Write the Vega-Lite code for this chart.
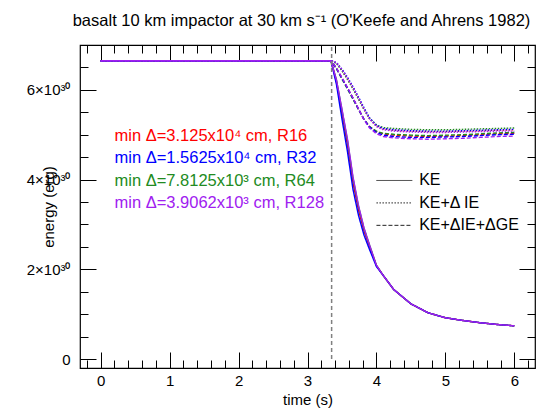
{
  "$schema": "https://vega.github.io/schema/vega-lite/v6.json",
  "width": 455,
  "height": 323,
  "autosize": {"type": "none"},
  "padding": {"left": 80, "top": 45, "right": 11, "bottom": 52},
  "background": "white",
  "title": {"text": "basalt 10 km impactor at 30 km s⁻¹ (O'Keefe and Ahrens 1982)", "font": "Liberation Sans", "fontSize": 16.5, "fontWeight": "normal", "color": "black", "anchor": "middle", "offset": 15, "dx": -6},
  "config": {
    "view": {"stroke": "black", "strokeWidth": 1.2},
    "axis": {"domain": false, "grid": false, "tickColor": "black", "tickWidth": 1, "labelFont": "Liberation Sans", "labelFontSize": 15, "labelColor": "black", "titleFont": "Liberation Sans", "titleFontSize": 15, "titleFontWeight": "normal", "titleColor": "black", "labelFlush": false}
  },
  "datasets": {
    "sims": [
      {"t": 0, "res": "R16", "KE": 6.65e30, "IE": 6.65e30, "GE": 6.65e30},
      {"t": 3.34, "res": "R16", "KE": 6.65e30, "IE": 6.65e30, "GE": 6.65e30},
      {"t": 3.42, "res": "R16", "KE": 6.18e30, "IE": 6.60e30, "GE": 6.48e30},
      {"t": 3.5, "res": "R16", "KE": 5.47e30, "IE": 6.44e30, "GE": 6.26e30},
      {"t": 3.58, "res": "R16", "KE": 4.77e30, "IE": 6.25e30, "GE": 6.04e30},
      {"t": 3.66, "res": "R16", "KE": 3.93e30, "IE": 6.04e30, "GE": 5.81e30},
      {"t": 3.74, "res": "R16", "KE": 3.32e30, "IE": 5.81e30, "GE": 5.57e30},
      {"t": 3.82, "res": "R16", "KE": 2.85e30, "IE": 5.57e30, "GE": 5.34e30},
      {"t": 3.9, "res": "R16", "KE": 2.50e30, "IE": 5.36e30, "GE": 5.18e30},
      {"t": 4.0, "res": "R16", "KE": 2.08e30, "IE": 5.20e30, "GE": 5.07e30},
      {"t": 4.1, "res": "R16", "KE": 1.86e30, "IE": 5.13e30, "GE": 5.02e30},
      {"t": 4.25, "res": "R16", "KE": 1.55e30, "IE": 5.10e30, "GE": 4.99e30},
      {"t": 4.5, "res": "R16", "KE": 1.23e30, "IE": 5.08e30, "GE": 4.97e30},
      {"t": 4.75, "res": "R16", "KE": 1.03e30, "IE": 5.07e30, "GE": 4.96e30},
      {"t": 5.0, "res": "R16", "KE": 0.92e30, "IE": 5.07e30, "GE": 4.97e30},
      {"t": 5.25, "res": "R16", "KE": 0.86e30, "IE": 5.08e30, "GE": 4.98e30},
      {"t": 5.5, "res": "R16", "KE": 0.81e30, "IE": 5.09e30, "GE": 5.00e30},
      {"t": 5.75, "res": "R16", "KE": 0.77e30, "IE": 5.10e30, "GE": 5.02e30},
      {"t": 6.0, "res": "R16", "KE": 0.74e30, "IE": 5.11e30, "GE": 5.03e30},

      {"t": 0, "res": "R64", "KE": 6.65e30, "IE": 6.65e30, "GE": 6.65e30},
      {"t": 3.34, "res": "R64", "KE": 6.65e30, "IE": 6.65e30, "GE": 6.65e30},
      {"t": 3.42, "res": "R64", "KE": 6.22e30, "IE": 6.59e30, "GE": 6.47e30},
      {"t": 3.5, "res": "R64", "KE": 5.55e30, "IE": 6.42e30, "GE": 6.24e30},
      {"t": 3.58, "res": "R64", "KE": 4.87e30, "IE": 6.23e30, "GE": 6.02e30},
      {"t": 3.66, "res": "R64", "KE": 4.03e30, "IE": 6.02e30, "GE": 5.79e30},
      {"t": 3.74, "res": "R64", "KE": 3.40e30, "IE": 5.79e30, "GE": 5.56e30},
      {"t": 3.82, "res": "R64", "KE": 2.91e30, "IE": 5.56e30, "GE": 5.34e30},
      {"t": 3.9, "res": "R64", "KE": 2.54e30, "IE": 5.36e30, "GE": 5.18e30},
      {"t": 4.0, "res": "R64", "KE": 2.09e30, "IE": 5.22e30, "GE": 5.08e30},
      {"t": 4.1, "res": "R64", "KE": 1.86e30, "IE": 5.16e30, "GE": 5.03e30},
      {"t": 4.25, "res": "R64", "KE": 1.55e30, "IE": 5.14e30, "GE": 5.01e30},
      {"t": 4.5, "res": "R64", "KE": 1.23e30, "IE": 5.12e30, "GE": 4.99e30},
      {"t": 4.75, "res": "R64", "KE": 1.03e30, "IE": 5.11e30, "GE": 4.98e30},
      {"t": 5.0, "res": "R64", "KE": 0.92e30, "IE": 5.11e30, "GE": 4.99e30},
      {"t": 5.25, "res": "R64", "KE": 0.86e30, "IE": 5.12e30, "GE": 5.00e30},
      {"t": 5.5, "res": "R64", "KE": 0.81e30, "IE": 5.13e30, "GE": 5.02e30},
      {"t": 5.75, "res": "R64", "KE": 0.77e30, "IE": 5.14e30, "GE": 5.04e30},
      {"t": 6.0, "res": "R64", "KE": 0.74e30, "IE": 5.15e30, "GE": 5.05e30},

      {"t": 0, "res": "R32", "KE": 6.65e30, "IE": 6.65e30, "GE": 6.65e30},
      {"t": 3.34, "res": "R32", "KE": 6.65e30, "IE": 6.65e30, "GE": 6.65e30},
      {"t": 3.42, "res": "R32", "KE": 6.12e30, "IE": 6.61e30, "GE": 6.48e30},
      {"t": 3.5, "res": "R32", "KE": 5.35e30, "IE": 6.46e30, "GE": 6.26e30},
      {"t": 3.58, "res": "R32", "KE": 4.62e30, "IE": 6.28e30, "GE": 6.04e30},
      {"t": 3.66, "res": "R32", "KE": 3.78e30, "IE": 6.07e30, "GE": 5.81e30},
      {"t": 3.74, "res": "R32", "KE": 3.20e30, "IE": 5.84e30, "GE": 5.57e30},
      {"t": 3.82, "res": "R32", "KE": 2.76e30, "IE": 5.60e30, "GE": 5.34e30},
      {"t": 3.9, "res": "R32", "KE": 2.44e30, "IE": 5.38e30, "GE": 5.17e30},
      {"t": 4.0, "res": "R32", "KE": 2.06e30, "IE": 5.21e30, "GE": 5.05e30},
      {"t": 4.1, "res": "R32", "KE": 1.86e30, "IE": 5.14e30, "GE": 4.99e30},
      {"t": 4.25, "res": "R32", "KE": 1.55e30, "IE": 5.11e30, "GE": 4.96e30},
      {"t": 4.5, "res": "R32", "KE": 1.23e30, "IE": 5.09e30, "GE": 4.94e30},
      {"t": 4.75, "res": "R32", "KE": 1.03e30, "IE": 5.08e30, "GE": 4.94e30},
      {"t": 5.0, "res": "R32", "KE": 0.92e30, "IE": 5.08e30, "GE": 4.95e30},
      {"t": 5.25, "res": "R32", "KE": 0.86e30, "IE": 5.09e30, "GE": 4.96e30},
      {"t": 5.5, "res": "R32", "KE": 0.81e30, "IE": 5.10e30, "GE": 4.98e30},
      {"t": 5.75, "res": "R32", "KE": 0.77e30, "IE": 5.11e30, "GE": 5.00e30},
      {"t": 6.0, "res": "R32", "KE": 0.74e30, "IE": 5.12e30, "GE": 5.01e30},

      {"t": 0, "res": "R128", "KE": 6.65e30, "IE": 6.65e30, "GE": 6.65e30},
      {"t": 3.34, "res": "R128", "KE": 6.65e30, "IE": 6.65e30, "GE": 6.65e30},
      {"t": 3.42, "res": "R128", "KE": 6.22e30, "IE": 6.61e30, "GE": 6.49e30},
      {"t": 3.5, "res": "R128", "KE": 5.57e30, "IE": 6.45e30, "GE": 6.27e30},
      {"t": 3.58, "res": "R128", "KE": 4.90e30, "IE": 6.26e30, "GE": 6.05e30},
      {"t": 3.66, "res": "R128", "KE": 4.06e30, "IE": 6.05e30, "GE": 5.82e30},
      {"t": 3.74, "res": "R128", "KE": 3.42e30, "IE": 5.82e30, "GE": 5.58e30},
      {"t": 3.82, "res": "R128", "KE": 2.92e30, "IE": 5.57e30, "GE": 5.33e30},
      {"t": 3.9, "res": "R128", "KE": 2.54e30, "IE": 5.35e30, "GE": 5.15e30},
      {"t": 4.0, "res": "R128", "KE": 2.09e30, "IE": 5.18e30, "GE": 5.02e30},
      {"t": 4.1, "res": "R128", "KE": 1.86e30, "IE": 5.11e30, "GE": 4.96e30},
      {"t": 4.25, "res": "R128", "KE": 1.55e30, "IE": 5.08e30, "GE": 4.93e30},
      {"t": 4.5, "res": "R128", "KE": 1.23e30, "IE": 5.06e30, "GE": 4.91e30},
      {"t": 4.75, "res": "R128", "KE": 1.03e30, "IE": 5.05e30, "GE": 4.90e30},
      {"t": 5.0, "res": "R128", "KE": 0.92e30, "IE": 5.05e30, "GE": 4.91e30},
      {"t": 5.25, "res": "R128", "KE": 0.86e30, "IE": 5.06e30, "GE": 4.92e30},
      {"t": 5.5, "res": "R128", "KE": 0.81e30, "IE": 5.07e30, "GE": 4.94e30},
      {"t": 5.75, "res": "R128", "KE": 0.77e30, "IE": 5.08e30, "GE": 4.96e30},
      {"t": 6.0, "res": "R128", "KE": 0.74e30, "IE": 5.08e30, "GE": 4.97e30}
    ],
    "notes": [
      {"t": 0.2, "E": 4.97e30, "res": "R16", "label": "min Δ=3.125x10⁴ cm, R16"},
      {"t": 0.2, "E": 4.47e30, "res": "R32", "label": "min Δ=1.5625x10⁴ cm, R32"},
      {"t": 0.2, "E": 3.97e30, "res": "R64", "label": "min Δ=7.8125x10³ cm, R64"},
      {"t": 0.2, "E": 3.47e30, "res": "R128", "label": "min Δ=3.9062x10³ cm, R128"}
    ],
    "key": [
      {"t": 4.0, "t2": 4.52, "tl": 4.62, "E": 3.98e30, "q": "KE", "label": "KE"},
      {"t": 4.0, "t2": 4.52, "tl": 4.62, "E": 3.48e30, "q": "IE", "label": "KE+Δ IE"},
      {"t": 4.0, "t2": 4.52, "tl": 4.62, "E": 2.98e30, "q": "GE", "label": "KE+ΔIE+ΔGE"}
    ],
    "impact": [
      {"t": 3.35, "E": 0, "E2": 7e30}
    ]
  },
  "resolve": {"axis": {"x": "independent", "y": "independent"}},
  "layer": [
    {
      "data": {"name": "sims"},
      "transform": [{"fold": ["KE", "IE", "GE"], "as": ["q", "E"]}],
      "mark": {"type": "line", "strokeWidth": 1.4, "clip": true},
      "encoding": {
        "x": {"field": "t", "type": "quantitative", "scale": {"domain": [-0.3, 6.3], "nice": false, "zero": false},
              "axis": {"orient": "bottom", "values": [0, 1, 2, 3, 4, 5, 6], "offset": -16, "tickSize": 16, "labelPadding": 5, "title": "time (s)", "titlePadding": 4}},
        "y": {"field": "E", "type": "quantitative", "scale": {"domain": [-2e29, 7e30], "nice": false, "zero": false},
              "axis": {"orient": "left", "values": [0, 2e30, 4e30, 6e30], "offset": -16, "tickSize": 16, "labelPadding": 10, "labelExpr": "datum.value === 0 ? '0' : round(datum.value / 1e30) + '×10³⁰'", "title": "energy (erg)", "titlePadding": -30}},
        "color": {"field": "res", "type": "nominal", "scale": {"domain": ["R16", "R32", "R64", "R128"], "range": ["#ff0000", "#0000ff", "#228b22", "#a020f0"]}, "legend": null},
        "strokeDash": {"field": "q", "type": "nominal", "scale": {"domain": ["KE", "IE", "GE"], "range": [[1, 0], [1.5, 1.5], [4, 2]]}, "legend": null},
        "detail": {"field": "res"}
      }
    },
    {
      "data": {"name": "impact"},
      "mark": {"type": "rule", "color": "#808080", "strokeWidth": 1.5, "strokeDash": [4, 3]},
      "encoding": {
        "x": {"field": "t", "type": "quantitative", "scale": {"domain": [-0.3, 6.3], "nice": false, "zero": false},
              "axis": {"orient": "bottom", "values": [-0.2, 0.2, 0.4, 0.6, 0.8, 1.2, 1.4, 1.6, 1.8, 2.2, 2.4, 2.6, 2.8, 3.2, 3.4, 3.6, 3.8, 4.2, 4.4, 4.6, 4.8, 5.2, 5.4, 5.6, 5.8, 6.2], "offset": -8, "tickSize": 8, "labels": false, "title": null}},
        "y": {"field": "E", "type": "quantitative", "scale": {"domain": [-2e29, 7e30], "nice": false, "zero": false},
              "axis": {"orient": "left", "values": [5e29, 1e30, 1.5e30, 2.5e30, 3e30, 3.5e30, 4.5e30, 5e30, 5.5e30, 6.5e30], "offset": -8, "tickSize": 8, "labels": false, "title": null}},
        "y2": {"field": "E2"}
      }
    },
    {
      "data": {"name": "notes"},
      "mark": {"type": "text", "align": "left", "baseline": "middle", "font": "Liberation Sans", "fontSize": 16.5},
      "encoding": {
        "x": {"field": "t", "type": "quantitative", "scale": {"domain": [-0.3, 6.3], "nice": false, "zero": false},
              "axis": {"orient": "top", "values": [0, 1, 2, 3, 4, 5, 6], "offset": -16, "tickSize": 16, "labels": false, "title": null}},
        "y": {"field": "E", "type": "quantitative", "scale": {"domain": [-2e29, 7e30], "nice": false, "zero": false},
              "axis": {"orient": "right", "values": [0, 2e30, 4e30, 6e30], "offset": -16, "tickSize": 16, "labels": false, "title": null}},
        "text": {"field": "label"},
        "color": {"field": "res", "type": "nominal", "scale": {"domain": ["R16", "R32", "R64", "R128"], "range": ["#ff0000", "#0000ff", "#228b22", "#a020f0"]}, "legend": null}
      }
    },
    {
      "data": {"name": "key"},
      "mark": {"type": "rule", "color": "#222222", "strokeWidth": 1},
      "encoding": {
        "x": {"field": "t", "type": "quantitative", "scale": {"domain": [-0.3, 6.3], "nice": false, "zero": false},
              "axis": {"orient": "top", "values": [-0.2, 0.2, 0.4, 0.6, 0.8, 1.2, 1.4, 1.6, 1.8, 2.2, 2.4, 2.6, 2.8, 3.2, 3.4, 3.6, 3.8, 4.2, 4.4, 4.6, 4.8, 5.2, 5.4, 5.6, 5.8, 6.2], "offset": -8, "tickSize": 8, "labels": false, "title": null}},
        "x2": {"field": "t2"},
        "y": {"field": "E", "type": "quantitative", "scale": {"domain": [-2e29, 7e30], "nice": false, "zero": false},
              "axis": {"orient": "right", "values": [5e29, 1e30, 1.5e30, 2.5e30, 3e30, 3.5e30, 4.5e30, 5e30, 5.5e30, 6.5e30], "offset": -8, "tickSize": 8, "labels": false, "title": null}},
        "strokeDash": {"field": "q", "type": "nominal", "scale": {"domain": ["KE", "IE", "GE"], "range": [[1, 0], [1.5, 1.5], [4, 2]]}, "legend": null}
      }
    },
    {
      "data": {"name": "key"},
      "mark": {"type": "text", "align": "left", "baseline": "middle", "font": "Liberation Sans", "fontSize": 16, "color": "black"},
      "encoding": {
        "x": {"field": "tl", "type": "quantitative", "scale": {"domain": [-0.3, 6.3], "nice": false, "zero": false}, "axis": null},
        "y": {"field": "E", "type": "quantitative", "scale": {"domain": [-2e29, 7e30], "nice": false, "zero": false}, "axis": null},
        "text": {"field": "label"}
      }
    }
  ]
}
